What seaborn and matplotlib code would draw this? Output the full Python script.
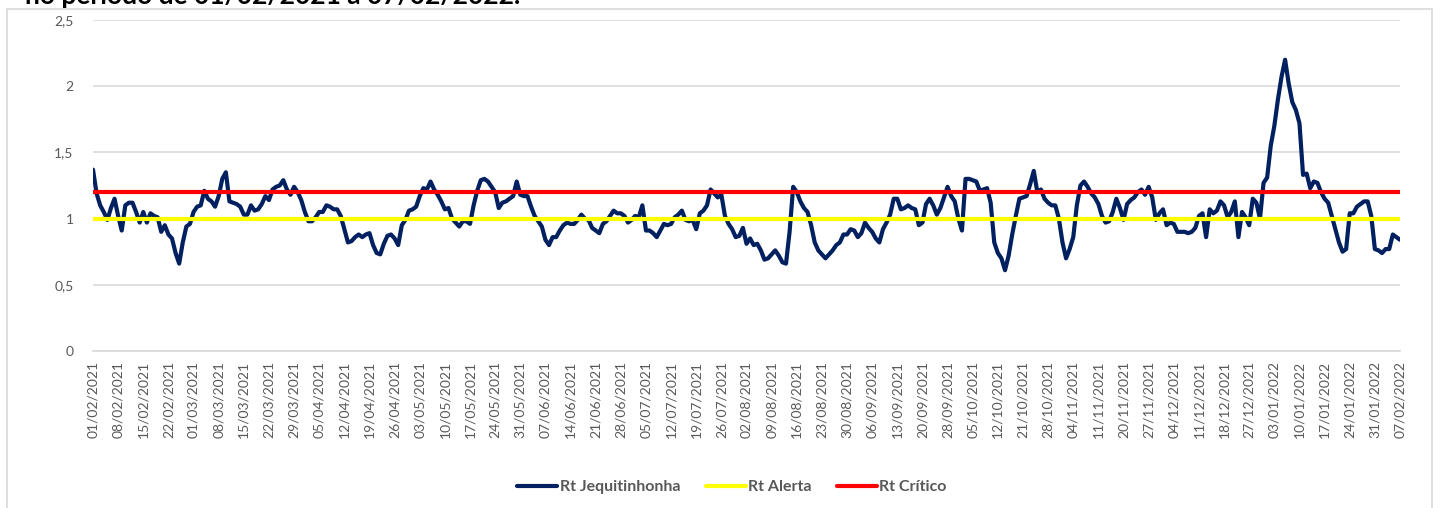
import numpy as np
import pandas as pd
import matplotlib
matplotlib.use("Agg")
import matplotlib.pyplot as plt
from matplotlib.patches import Rectangle
from matplotlib.lines import Line2D
import seaborn as sns

# ---------------- data ----------------
start_date = "2021-02-01"
end_date = "2022-02-07"
# calendar days with no record in the source table (the category axis skips them)
missing_dates = ["2021-09-27", "2021-10-19", "2021-10-20", "2021-11-18",
                 "2021-11-19", "2021-12-25", "2021-12-26"]

# Rt value for each recorded date, in order
rt_jequitinhonha = [
    1.37, 1.19, 1.10, 1.05, 0.99, 1.08, 1.15,
    1.02, 0.91, 1.10, 1.12, 1.12, 1.05, 0.97,
    1.05, 0.97, 1.04, 1.02, 1.01, 0.90, 0.95,
    0.88, 0.85, 0.74, 0.66, 0.82, 0.94, 0.96,
    1.05, 1.09, 1.10, 1.21, 1.15, 1.13,
    1.09, 1.17, 1.30, 1.35, 1.13, 1.12, 1.11,
    1.09, 1.03, 1.03, 1.10, 1.06, 1.07, 1.11,
    1.17, 1.14, 1.22, 1.24, 1.25, 1.29, 1.22,
    1.18, 1.24, 1.20, 1.14, 1.05, 0.98, 0.98,
    1.01, 1.05, 1.05, 1.10, 1.09, 1.07, 1.07,
    1.02, 0.92, 0.82, 0.83, 0.86, 0.88, 0.86,
    0.88, 0.89, 0.80, 0.74, 0.73, 0.81,
    0.87, 0.88, 0.85, 0.80, 0.95, 0.99, 1.06,
    1.07, 1.09, 1.17, 1.23, 1.22, 1.28, 1.22,
    1.18, 1.13, 1.07, 1.08, 1.00, 0.97, 0.94,
    0.98, 0.98, 0.96, 1.10, 1.21, 1.29, 1.30,
    1.28, 1.24, 1.20, 1.08, 1.12, 1.13, 1.15,
    1.17, 1.28, 1.18, 1.17, 1.17, 1.09, 1.02,
    0.98, 0.94, 0.84, 0.80, 0.86, 0.86,
    0.91, 0.95, 0.97, 0.96, 0.96, 0.99, 1.03,
    1.00, 0.99, 0.93, 0.91, 0.89, 0.96, 0.98,
    1.02, 1.06, 1.04, 1.04, 1.02, 0.97, 0.99,
    1.02, 1.01, 1.10, 0.91, 0.91, 0.89, 0.86,
    0.91, 0.96, 0.95, 0.96, 1.01, 1.03, 1.06,
    0.99, 0.98, 0.99, 0.92, 1.04, 1.06, 1.10,
    1.22, 1.19, 1.16, 1.18, 1.02, 0.96, 0.92,
    0.86, 0.87, 0.93, 0.81, 0.85, 0.80,
    0.81, 0.76, 0.69, 0.70, 0.73, 0.76, 0.72,
    0.67, 0.66, 0.90, 1.24, 1.20, 1.13, 1.08,
    1.05, 0.95, 0.82, 0.76, 0.73, 0.70, 0.73,
    0.76, 0.80, 0.82, 0.88, 0.88, 0.92, 0.91,
    0.86, 0.89, 0.97, 0.93, 0.90, 0.85, 0.82,
    0.92, 0.97, 1.03, 1.15, 1.15, 1.07,
    1.08, 1.10, 1.08, 1.07, 0.95, 0.97, 1.11,
    1.15, 1.10, 1.03, 1.08, 1.16, 1.24, 1.17,
    1.13, 1.00, 0.91, 1.30, 1.30, 1.29, 1.28,
    1.21, 1.22, 1.23, 1.12, 0.82, 0.74, 0.70,
    0.61, 0.72, 0.88, 1.02, 1.15, 1.16, 1.17,
    1.26, 1.36, 1.20, 1.22, 1.15, 1.12, 1.10,
    1.10, 1.00, 0.82, 0.70, 0.77, 0.86, 1.10,
    1.25, 1.28, 1.24, 1.19, 1.16, 1.11, 1.02,
    0.97, 0.98, 1.05, 1.15, 1.08, 0.99,
    1.11, 1.14, 1.16, 1.20, 1.22, 1.18, 1.24,
    1.16, 0.99, 1.04, 1.07, 0.95, 0.97, 0.96,
    0.90, 0.90, 0.90, 0.89, 0.90, 0.93, 1.02,
    1.04, 0.86, 1.07, 1.04, 1.06, 1.13, 1.10,
    1.01, 1.05, 1.13, 0.86, 1.05, 1.01, 0.95,
    1.15, 1.12, 1.00, 1.27, 1.31, 1.55, 1.70,
    1.90, 2.07, 2.20, 2.02, 1.88, 1.82, 1.72,
    1.33, 1.34, 1.23, 1.28, 1.27, 1.20, 1.15,
    1.12, 1.02, 0.92, 0.82, 0.75, 0.77,
    1.04, 1.04, 1.09, 1.11, 1.13, 1.13, 1.02,
    0.77, 0.76, 0.74, 0.77, 0.77, 0.88, 0.86,
    0.84,
]
rt_alerta_level = 1.0
rt_critico_level = 1.2

series_names = ["Rt Jequitinhonha", "Rt Alerta", "Rt Crítico"]
series_colors = ["#002060", "#FFFF00", "#FF0000"]
y_ticks = [0, 0.5, 1, 1.5, 2, 2.5]
y_tick_labels = ["0", "0,5", "1", "1,5", "2", "2,5"]
title_fragment = "no período de 01/02/2021 a 07/02/2022."

# ---------------- build frame ----------------
all_days = pd.date_range(start_date, end_date, freq="D")
dates = all_days[~all_days.isin(pd.to_datetime(missing_dates))]
n = len(dates)
cat_idx = np.arange(n)
df = pd.DataFrame({
    "cat": np.concatenate([cat_idx, cat_idx, cat_idx]),
    "Rt": np.concatenate([rt_jequitinhonha,
                          [rt_alerta_level] * n,
                          [rt_critico_level] * n]),
    "serie": np.repeat(series_names, n),
})

# ---------------- figure ----------------
sns.set_style("white")
plt.rcParams["font.family"] = ["Lato", "DejaVu Sans"]

W, H = 1440, 508
fig = plt.figure(figsize=(W / 100, H / 100), dpi=100)
ax_left, ax_right, ax_top, ax_bottom = 93, 1400, 20, 351
ax = fig.add_axes([ax_left / W, 1 - ax_bottom / H,
                   (ax_right - ax_left) / W, (ax_bottom - ax_top) / H])

sns.lineplot(data=df, x="cat", y="Rt", hue="serie", hue_order=series_names,
             palette=series_colors, linewidth=3.0, ax=ax, legend=False,
             estimator=None, sort=False)

ax.set_xlim(0, n - 1)
ax.set_ylim(0, 2.5)
ax.set_yticks(y_ticks)
ax.set_yticklabels(y_tick_labels)
ax.yaxis.grid(True, color="#d9d9d9", linewidth=1.2)
ax.set_axisbelow(True)
for s in ["top", "right", "left"]:
    ax.spines[s].set_visible(False)
ax.spines["bottom"].set_color("#d9d9d9")
ax.spines["bottom"].set_linewidth(1.2)

major = cat_idx[::7]
ax.set_xticks(major)
ax.set_xticklabels([dates[i].strftime("%d/%m/%Y") for i in major],
                   rotation=90, fontsize=10, color="#595959")
ax.set_xticks(cat_idx, minor=True)
ax.tick_params(axis="x", which="both", length=5, width=0.8,
               color="#d9d9d9", pad=2, direction="out")
ax.tick_params(axis="y", length=0, pad=14, labelsize=10, labelcolor="#595959")
ax.set_xlabel("")
ax.set_ylabel("")

# legend
handles = [Line2D([0], [0], color=c, lw=3.0) for c in series_colors]
leg = fig.legend(handles, series_names, loc="center",
                 bbox_to_anchor=(732 / W, 1 - 487 / H), ncol=3, frameon=False,
                 handlelength=2.5, handletextpad=0.15, columnspacing=1.6,
                 prop={"size": 11.5, "weight": "bold"})
for t in leg.get_texts():
    t.set_color("#595959")

# chart border
fig.patches.append(Rectangle((7 / W, -0.05), (1432 - 7) / W, 1.05 - 9.5 / H,
                             transform=fig.transFigure, fill=False,
                             edgecolor="#d9d9d9", linewidth=1.2))

# clipped title fragment at the very top (as in the source screenshot)
fig.text(25 / W, 1 - 4 / H, title_fragment, fontsize=19, fontweight="bold",
         color="black", va="baseline", ha="left")

fig.savefig("out.png", dpi=100)
